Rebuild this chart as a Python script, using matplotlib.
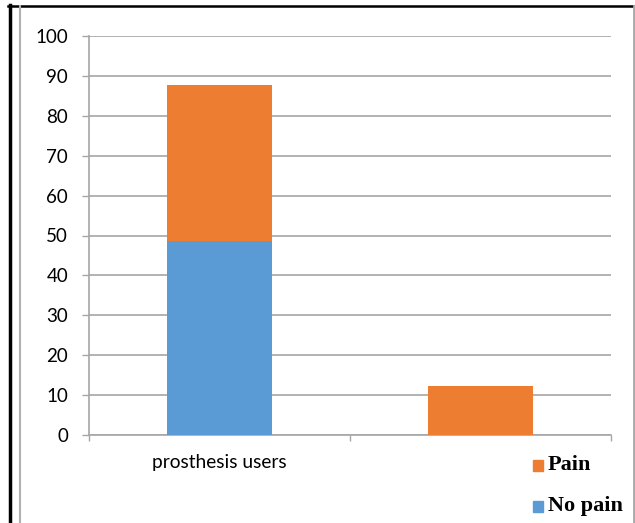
import numpy as np
import matplotlib
matplotlib.use('Agg')
import matplotlib.pyplot as plt
from matplotlib.lines import Line2D
from matplotlib.patches import Rectangle

categories = ['prosthesis users', '']
no_pain = [48.7, 0.0]
pain = [39.1, 12.2]
yticks = list(range(0, 101, 10))

BLUE = '#5B9BD5'
ORANGE = '#ED7D31'
GRID = '#A6A6A6'

fig = plt.figure(figsize=(6.35, 5.23), dpi=100)
ax = fig.add_axes([89/635, 88/523, 522/635, 399/523])

x = np.arange(len(categories))
ax.bar(x, no_pain, width=0.4, color=BLUE, zorder=3)
ax.bar(x, pain, width=0.4, bottom=no_pain, color=ORANGE, zorder=3)

ax.set_xlim(-0.5, len(categories) - 0.5)
ax.set_ylim(0, 100)
ax.set_yticks(yticks)
ax.set_yticklabels([str(t) for t in yticks], fontsize=13.5, family='Lato')
ax.tick_params(axis='y', length=5, width=1, color=GRID, pad=10)
ax.yaxis.grid(True, color=GRID, lw=1.2)
ax.set_axisbelow(True)

# category boundaries get the bottom ticks, labels sit between them
ax.set_xticks([-0.5, 0.5, 1.5])
ax.set_xticklabels([])
ax.tick_params(axis='x', length=4.5, width=1, color=GRID, direction='out')
for xi, lab in zip(x, categories):
    ax.text(xi, -7, lab, ha='center', va='center', fontsize=13.8, family='Lato',
            transform=ax.transData)

for s in ['top', 'right']:
    ax.spines[s].set_visible(False)
for s in ['left', 'bottom']:
    ax.spines[s].set_color(GRID)
    ax.spines[s].set_linewidth(1.2)

# legend entries stacked at the lower right
legend_items = [('Pain', ORANGE, 465), ('No pain', BLUE, 506)]
for lab, col, ypx in legend_items:
    yf = 1 - ypx / 523
    fig.patches.append(Rectangle((533/635, yf - 5.5/523), 10/635, 11/523,
                                 transform=fig.transFigure, color=col))
    fig.text(548/635, yf, lab, ha='left', va='center', fontsize=16, fontweight='bold',
             family='Liberation Serif')

# page frame lines
fig.add_artist(Line2D([9.5/635, 9.5/635], [0, 1 - 5/523], color='black', lw=2.5, transform=fig.transFigure))
fig.add_artist(Line2D([8/635, 633/635], [1 - 5.5/523, 1 - 5.5/523], color='black', lw=1.8, transform=fig.transFigure))
fig.add_artist(Line2D([19.5/635, 19.5/635], [0, 1 - 6/523], color='#B0B0B0', lw=1.5, transform=fig.transFigure))
fig.add_artist(Line2D([633.5/635, 633.5/635], [0, 1 - 6/523], color='#A8A8A8', lw=2, transform=fig.transFigure))

fig.savefig('out.png', dpi=100)
